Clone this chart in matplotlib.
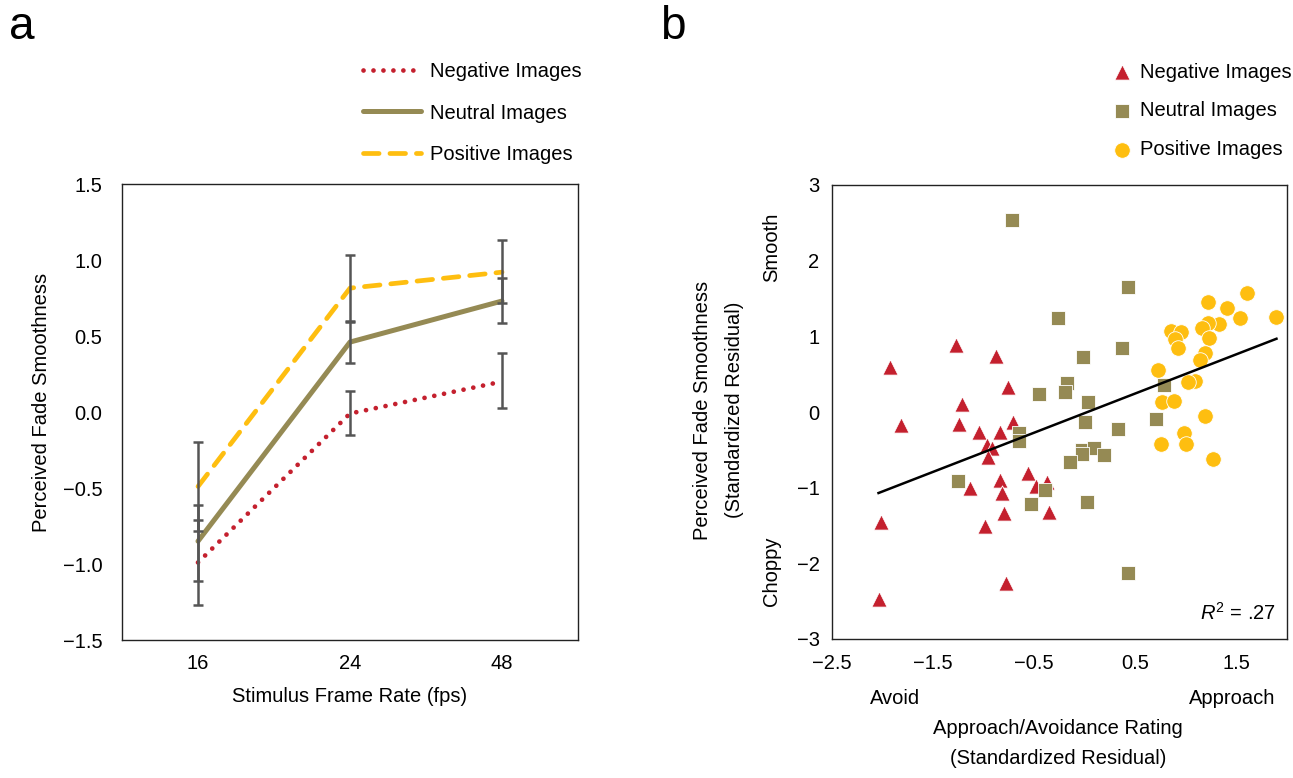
import numpy as np
import matplotlib
matplotlib.use("Agg")
import matplotlib.pyplot as plt

plt.rcParams['font.family'] = ['Liberation Sans', 'DejaVu Sans']
plt.rcParams['mathtext.fontset'] = 'custom'
plt.rcParams['mathtext.rm'] = 'Liberation Sans'
plt.rcParams['mathtext.it'] = 'Liberation Sans:italic'

# ---------------- data: panel a ----------------
frame_rates = ["16", "24", "48"]
neg_mean = [-0.99, -0.01, 0.20]
neg_lo = [-1.27, -0.15, 0.025]
neg_hi = [-0.71, 0.14, 0.385]
neu_mean = [-0.85, 0.46, 0.73]
neu_lo = [-1.11, 0.325, 0.585]
neu_hi = [-0.615, 0.595, 0.88]
pos_mean = [-0.49, 0.815, 0.92]
pos_lo = [-0.78, 0.60, 0.72]
pos_hi = [-0.20, 1.03, 1.13]

# ---------------- data: panel b ----------------
neg_x = [-1.93, -1.272, -0.88, -0.757, -1.213, -1.82, -1.243, -0.711, -1.05, -0.84,
         -0.965, -0.92, -0.96, -1.134, -0.837, -0.817, -0.563, -0.48, -0.375, -0.349,
         -0.80, -0.982, -2.018, -0.777, -2.04]
neg_y = [0.59, 0.886, 0.74, 0.335, 0.10, -0.17, -0.16, -0.128, -0.27, -0.27,
         -0.436, -0.48, -0.59, -1.01, -0.90, -1.066, -0.81, -0.98, -0.92, -1.317,
         -1.33, -1.507, -1.46, -2.26, -2.47]
neu_x = [-0.718, -0.45, -0.655, -0.655, -1.255, -0.533, -0.39, 0.424, -0.269, 0.365,
         -0.022, -0.173, -0.196, 0.028, 0.787, 0.005, 0.705, 0.325, -0.028, 0.087,
         -0.025, 0.186, -0.144, 0.021, 0.424]
neu_y = [2.54, 0.234, -0.28, -0.38, -0.91, -1.22, -1.03, 1.656, 1.247, 0.842,
         0.73, 0.38, 0.27, 0.136, 0.357, -0.128, -0.092, -0.225, -0.50, -0.48,
         -0.56, -0.568, -0.657, -1.185, -2.13]
pos_x = [1.606, 1.22, 1.41, 1.896, 1.533, 1.332, 1.22, 1.16, 0.853, 0.952,
         0.896, 1.226, 0.919, 1.187, 1.144, 0.725, 1.087, 1.022, 0.764, 0.879,
         1.193, 0.979, 0.754, 0.998, 1.265]
pos_y = [1.577, 1.458, 1.379, 1.26, 1.238, 1.159, 1.172, 1.114, 1.075, 1.061,
         0.961, 0.974, 0.842, 0.776, 0.687, 0.555, 0.414, 0.397, 0.128, 0.15,
         -0.049, -0.273, -0.423, -0.423, -0.625]
fit_slope = 0.518
fit_intercept = -0.014
r2_text = ".27"

# ---------------- style ----------------
RED = "#C4202E"
OLIVE = "#958A54"
YELLOW = "#FEBE10"
GRAY = "#555555"
FS = 14.5

W, H = 1293, 778
fig = plt.figure(figsize=(W / 100, H / 100), dpi=100)

def fx(px):
    return px / W

def fy(py):
    return 1 - py / H

# ---------------- panel a ----------------
axa = fig.add_axes([fx(122), fy(640), fx(578) - fx(122), fy(184) - fy(640)])
xs = np.arange(len(frame_rates))

series = [
    (neg_mean, neg_lo, neg_hi),
    (neu_mean, neu_lo, neu_hi),
    (pos_mean, pos_lo, pos_hi),
]
for m, lo, hi in series:
    m = np.array(m); lo = np.array(lo); hi = np.array(hi)
    axa.errorbar(xs, m, yerr=[m - lo, hi - m], fmt='none', ecolor=GRAY,
                 elinewidth=1.8, capsize=3.4, capthick=1.8, zorder=4)

l_neg, = axa.plot(xs, neg_mean, color=RED, lw=3.4, linestyle=(0, (0.01, 2.1)),
                  dash_capstyle='round', zorder=3)
l_neu, = axa.plot(xs, neu_mean, color=OLIVE, lw=3.6, solid_capstyle='round', zorder=3)
l_pos, = axa.plot(xs, pos_mean, color=YELLOW, lw=3.4, linestyle=(0, (3.3, 2.3)),
                  dash_capstyle='round', zorder=3)

axa.set_xlim(-0.5, 2.5)
axa.set_ylim(-1.5, 1.5)
axa.set_xticks(xs)
axa.set_xticklabels(frame_rates)
ya_ticks = np.arange(-1.5, 1.51, 0.5)
axa.set_yticks(ya_ticks)
axa.set_yticklabels([f"{v:.1f}".replace("-", "\u2212") for v in ya_ticks])
axa.tick_params(axis='both', length=0, labelsize=FS)
axa.tick_params(axis='y', pad=14)
axa.tick_params(axis='x', pad=10)
for sp in axa.spines.values():
    sp.set_linewidth(1.0)
    sp.set_color("#222222")

fig.legend([l_neg, l_neu, l_pos], ["Negative Images", "Neutral Images", "Positive Images"],
           loc='center left', bbox_to_anchor=(fx(363), fy(113)), frameon=False,
           fontsize=FS, handlelength=2.9, handletextpad=0.45, labelspacing=1.1,
           borderpad=0, borderaxespad=0)

fig.text(fx(42), fy(402), "Perceived Fade Smoothness", rotation=90, ha='center', va='center', fontsize=FS)
fig.text(fx(350), fy(697), "Stimulus Frame Rate (fps)", ha='center', va='center', fontsize=FS)
fig.text(fx(22), fy(27), "a", ha='center', va='center', fontsize=33)

# ---------------- panel b ----------------
axb = fig.add_axes([fx(832), fy(639), fx(1287) - fx(832), fy(185) - fy(639)])
edge = dict(edgecolors='white', linewidths=0.6)
s_neg = axb.scatter(neg_x, neg_y, marker='^', s=120, color=RED, zorder=3, **edge)
s_neu = axb.scatter(neu_x, neu_y, marker='s', s=90, color=OLIVE, zorder=3, **edge)
s_pos = axb.scatter(pos_x, pos_y, marker='o', s=125, color=YELLOW, zorder=3, **edge)

allx = np.concatenate([neg_x, neu_x, pos_x])
lx = np.array([allx.min(), allx.max()])
axb.plot(lx, fit_slope * lx + fit_intercept, color='black', lw=1.8, zorder=4)

axb.set_xlim(-2.5, 2.0)
axb.set_ylim(-3, 3)
bx = [-2.5, -1.5, -0.5, 0.5, 1.5]
axb.set_xticks(bx)
axb.set_xticklabels([f"{v:.1f}".replace("-", "\u2212") for v in bx])
by = [-3, -2, -1, 0, 1, 2, 3]
axb.set_yticks(by)
axb.set_yticklabels([str(v).replace("-", "\u2212") for v in by])
axb.tick_params(axis='both', length=0, labelsize=FS)
axb.tick_params(axis='y', pad=9)
axb.tick_params(axis='x', pad=11)
for sp in axb.spines.values():
    sp.set_linewidth(1.0)
    sp.set_color("#222222")

axb.text(0.975, 0.058, r"$R^2$ = " + r2_text, transform=axb.transAxes, ha='right', va='center', fontsize=FS)

fig.legend([s_neg, s_neu, s_pos], ["Negative Images", "Neutral Images", "Positive Images"],
           loc='center left', bbox_to_anchor=(fx(1112), fy(111)), frameon=False,
           fontsize=FS, handlelength=1.0, handletextpad=0.4, labelspacing=0.98,
           borderpad=0, borderaxespad=0, scatterpoints=1)

fig.text(fx(703), fy(410), "Perceived Fade Smoothness", rotation=90, ha='center', va='center', fontsize=FS)
fig.text(fx(735), fy(410), "(Standardized Residual)", rotation=90, ha='center', va='center', fontsize=FS)
fig.text(fx(772), fy(247), "Smooth", rotation=90, ha='center', va='center', fontsize=FS)
fig.text(fx(772), fy(571), "Choppy", rotation=90, ha='center', va='center', fontsize=FS)
fig.text(fx(895), fy(699), "Avoid", ha='center', va='center', fontsize=FS)
fig.text(fx(1232), fy(699), "Approach", ha='center', va='center', fontsize=FS)
fig.text(fx(1058), fy(729), "Approach/Avoidance Rating", ha='center', va='center', fontsize=FS)
fig.text(fx(1058), fy(759), "(Standardized Residual)", ha='center', va='center', fontsize=FS)
fig.text(fx(673), fy(27), "b", ha='center', va='center', fontsize=33)

fig.savefig("out.png", dpi=100)
